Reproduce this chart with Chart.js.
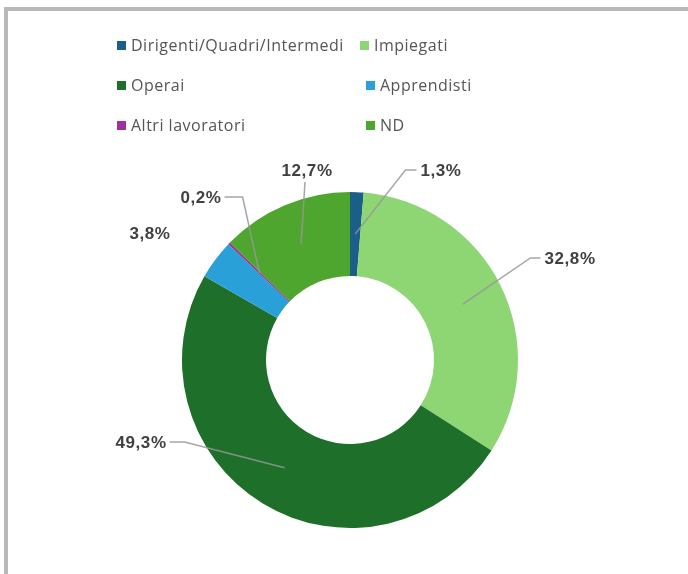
<!DOCTYPE html>
<html>
<head>
<meta charset="utf-8">
<script src="https://cdn.jsdelivr.net/npm/chart.js@4/dist/chart.umd.min.js"></script>
<style>
  html, body { margin: 0; padding: 0; background: #fff; }
  body { width: 688px; height: 574px; position: relative; overflow: hidden; }
  #frame {
    position: absolute; left: 4px; top: 7px; right: 0; bottom: 0;
    border-top: 4px solid #b8b8b8; border-left: 4px solid #b8b8b8;
  }
  #chart { position: absolute; left: 0; top: 0; }
  .legend-item {
    position: absolute; display: flex; align-items: center;
    font-family: "Open Sans", sans-serif; font-size: 16px; color: #555;
    letter-spacing: 0.5px; white-space: nowrap; line-height: 20px;
  }
  .legend-item .box { width: 9px; height: 9px; margin-right: 5px; flex: none; }
</style>
</head>
<body>
<div id="frame"></div>
<canvas id="chart" width="688" height="574"></canvas>
<div id="legend"></div>

<script>
// categories and values (percent)
const categories = ['Dirigenti/Quadri/Intermedi', 'Impiegati', 'Operai', 'Apprendisti', 'Altri lavoratori', 'ND'];
const shares = [1.3, 32.8, 49.3, 3.8, 0.2, 12.7];
const sliceColors = ['#1a5f87', '#8ed574', '#1e6f2a', '#2aa0d8', '#a0309c', '#4fa62f'];

// where the legend entries sit (box left x, row centre y)
const legendSpots = [[117, 45], [360, 45], [117, 85], [366, 85], [117, 125], [366, 125]];

// label placement relative to the donut centre, for an outer radius of 168px
const labelOffsets = [[91, -190], [220, -102], [-209, 82], [-200, -127], [-149, -163], [-43, -190]];
// which side the leader line leaves from, and the length of its short horizontal piece
const leaders = [['left', 11], ['left', 10], ['right', 15], ['none', 0], ['right', 18], ['bottom', 0]];

function fmtPct(v) {
    return v.toFixed(1).replace('.', ',') + '%';
}

// build the html legend
const legendEl = document.getElementById('legend');
categories.forEach((name, i) => {
    const item = document.createElement('div');
    item.className = 'legend-item';
    item.style.left = legendSpots[i][0] + 'px';
    item.style.top = (legendSpots[i][1] - 10) + 'px';
    item.innerHTML = `<span class="box" style="background:${sliceColors[i]}"></span><span>${name}</span>`;
    legendEl.appendChild(item);
});

// draws the percent labels with their leader lines
const outsideLabels = {
    id: 'outsideLabels',
    afterDatasetsDraw(chart) {
        const ctx = chart.ctx;
        const arcs = chart.getDatasetMeta(0).data;
        ctx.save();
        ctx.font = 'bold 17px "Liberation Sans", Arial, sans-serif';
        ctx.letterSpacing = '0.6px';
        ctx.textAlign = 'center';
        ctx.textBaseline = 'middle';

        arcs.forEach((arc, i) => {
            const p = arc.getProps(['x', 'y', 'startAngle', 'endAngle', 'innerRadius', 'outerRadius'], true);
            const scale = p.outerRadius / 168;
            const mid = (p.startAngle + p.endAngle) / 2;
            const rMid = (p.innerRadius + p.outerRadius) / 2;
            const ax = p.x + Math.cos(mid) * rMid;
            const ay = p.y + Math.sin(mid) * rMid;
            const cx = p.x + labelOffsets[i][0] * scale;
            const cy = p.y + labelOffsets[i][1] * scale;
            const text = fmtPct(shares[i]);
            const w = ctx.measureText(text).width;

            const [side, elbow] = leaders[i];
            if (side !== 'none') {
                ctx.beginPath();
                ctx.strokeStyle = 'rgba(150,150,150,0.85)';
                ctx.lineWidth = 1.5;
                if (side === 'left') {
                    const sx = cx - w / 2 - 4;
                    ctx.moveTo(sx, cy);
                    ctx.lineTo(sx - elbow, cy);
                } else if (side === 'right') {
                    const sx = cx + w / 2 + 3;
                    ctx.moveTo(sx, cy);
                    ctx.lineTo(sx + elbow, cy);
                } else {
                    ctx.moveTo(cx - 2, cy + 12);
                }
                ctx.lineTo(ax, ay);
                ctx.stroke();
            }

            ctx.fillStyle = '#404040';
            ctx.fillText(text, cx, cy + 1);
        });
        ctx.restore();
    }
};

new Chart(document.getElementById('chart'), {
    type: 'doughnut',
    data: {
        labels: categories,
        datasets: [{
            data: shares,
            backgroundColor: sliceColors,
            borderWidth: 0,
        }],
    },
    options: {
        responsive: false,
        animation: false,
        cutout: '50%',
        layout: {
            padding: { top: 192, bottom: 46, left: 182, right: 170 },
        },
        plugins: {
            legend: { display: false },
            tooltip: { enabled: false },
        },
    },
    plugins: [outsideLabels],
});
</script>
</body>
</html>
